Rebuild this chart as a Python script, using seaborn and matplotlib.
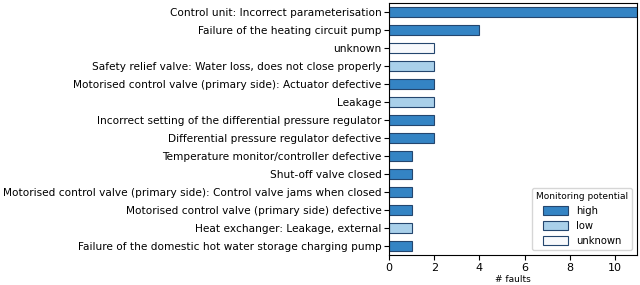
import matplotlib
matplotlib.use("Agg")
import matplotlib.pyplot as plt
import seaborn as sns
import pandas as pd

faults = [
    "Control unit: Incorrect parameterisation",
    "Failure of the heating circuit pump",
    "unknown",
    "Safety relief valve: Water loss, does not close properly",
    "Motorised control valve (primary side): Actuator defective",
    "Leakage",
    "Incorrect setting of the differential pressure regulator",
    "Differential pressure regulator defective",
    "Temperature monitor/controller defective",
    "Shut-off valve closed",
    "Motorised control valve (primary side): Control valve jams when closed",
    "Motorised control valve (primary side) defective",
    "Heat exchanger: Leakage, external",
    "Failure of the domestic hot water storage charging pump",
]
counts = [11, 4, 2, 2, 2, 2, 2, 2, 1, 1, 1, 1, 1, 1]
potential = ["high", "high", "unknown", "low", "high", "low", "high", "high",
             "high", "high", "high", "high", "low", "high"]
levels = ["high", "low", "unknown"]
colors = {"high": "#3484c4", "low": "#a9d0ea", "unknown": "#f7f9fc"}

df = pd.DataFrame({"fault": faults, "count": counts, "potential": potential})

fig = plt.figure(figsize=(6.4, 2.85), dpi=100)
ax = fig.add_axes([0.608, 0.105, 0.388, 0.883])

sns.barplot(data=df, y="fault", x="count", hue="potential", hue_order=levels,
            dodge=False, palette=colors, saturation=1, edgecolor="#24466e",
            linewidth=0.8, width=0.55, ax=ax, order=faults)

ax.set_xlim(0, 11)
ax.set_xticks([0, 2, 4, 6, 8, 10])
ax.set_ylabel("")
ax.set_xlabel("# faults", fontsize=6.5)
ax.xaxis.set_label_coords(0.5, -0.078)
ax.tick_params(axis="y", labelsize=7.6, pad=2)
ax.tick_params(axis="x", labelsize=8, pad=2)
for s in ax.spines.values():
    s.set_color("black")
    s.set_linewidth(0.8)

leg = ax.legend(title="Monitoring potential", loc="lower right", fontsize=7.2,
                title_fontsize=6.5, frameon=True, handlelength=2.5,
                handleheight=1.0)

fig.savefig("out.png", dpi=100)
